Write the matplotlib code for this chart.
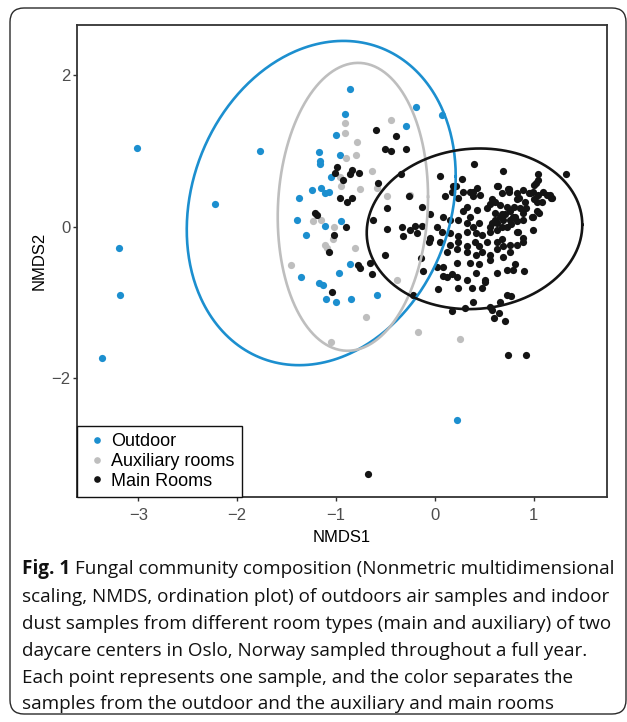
import numpy as np
import matplotlib
matplotlib.use("Agg")
import matplotlib.pyplot as plt
from matplotlib.patches import FancyBboxPatch
from matplotlib.lines import Line2D

# ---------------- data (NMDS scores) ----------------
outdoor_x = [-3.01, -1.77, -2.22, -3.20, -3.19, -3.37, 0.22, -0.86, -0.19, 0.07, -0.91, -0.29,
             -1.00, -1.17, -1.16, -1.16, -0.96, -1.05, -1.15, -1.24, -1.11, -1.07, -1.37, -1.40,
             -1.30, -1.11, -0.95, -0.86, -0.97, -1.35, -1.17, -1.13, -1.10, -1.00, -0.85, -0.59]
outdoor_y = [1.03, 1.00, 0.30, -0.29, -0.90, -1.74, -2.55, 1.81, 1.58, 1.47, 1.48, 1.33,
             1.21, 0.99, 0.86, 0.83, 0.94, 0.65, 0.51, 0.48, 0.44, 0.45, 0.37, 0.09,
             -0.11, 0.01, 0.07, -0.50, -0.61, -0.66, -0.75, -0.77, -0.96, -1.00, -0.95, -0.91]

aux_x = [-0.91, -0.91, -0.79, -0.44, -0.90, -0.80, -0.64, -0.96, -0.95, -0.76, -0.59, -0.48,
         -0.25, -1.23, -1.15, -1.02, -1.03, -1.11, -1.09, -0.81, -1.46, -0.38, -0.70, -0.17,
         0.25, -1.05]
aux_y = [1.36, 1.24, 1.12, 1.40, 0.90, 0.94, 0.73, 0.65, 0.53, 0.49, 0.51, 0.40,
         0.42, 0.07, 0.08, 0.00, -0.17, -0.25, -0.29, -0.28, -0.51, -0.70, -1.20, -1.39,
         -1.48, -1.53]

main_x = [-0.60, -0.39, -0.51, -0.44, -0.29, -0.99, -1.01, -0.84, -0.86, -0.77, -0.93, -0.58,
          -0.34, -0.96, -0.89, -0.84, -1.21, -1.19, -0.90, -1.02, -1.07, -0.78, -0.76, -0.66,
          -0.64, -1.04, -0.51, -0.63, -0.48, -0.48, -0.26, -0.13, -0.05, -0.33, -0.32, -0.20,
          -0.13, -0.18, -0.14, -0.12, -0.22, 0.03, 0.08, -0.05, -0.06, 0.05, 0.10, 0.18,
          0.27, 0.39, 0.69, 1.04, 1.04, 1.33, 1.02, 1.00, 0.89, 0.96, 1.09, 1.16,
          1.18, 0.74, 0.64, 0.43, 0.38, 0.46, 0.28, 0.23, 0.17, 0.56, 0.66, 0.73,
          0.83, 0.91, 1.03, 1.08, 0.32, 0.28, 0.35, 0.43, 0.53, 0.61, 0.68, 0.76,
          0.81, 0.89, 0.99, 1.03, 0.08, 0.15, 0.23, 0.32, 0.38, 0.45, 0.56, 0.63,
          0.69, 0.76, 0.02, 0.07, 0.15, 0.23, 0.32, 0.42, 0.48, 0.56, 0.63, 0.73,
          0.83, 0.99, 0.05, 0.15, 0.23, 0.32, 0.40, 0.45, 0.53, 0.63, 0.69, 0.76,
          0.83, 0.89, 0.12, 0.22, 0.32, 0.42, 0.48, 0.56, 0.63, 0.69, 0.76, 0.02,
          0.08, 0.22, 0.35, 0.45, 0.56, 0.12, 0.22, 0.32, 0.42, 0.51, 0.63, 0.73,
          0.79, 0.90, 0.81, 0.23, 0.37, 0.48, 0.51, 0.17, 0.30, 0.38, 0.56, 0.58,
          0.65, 0.60, 0.71, 0.66, 0.73, 0.77, 0.74, 0.92, -0.68, 0.63, 0.75, 0.75,
          0.68, 0.83, 0.85, 0.95, 0.99, 1.04, 1.13, 1.17, 1.00, 0.61, 0.58, 0.80,
          0.86, 0.92, 0.71, 0.66, 0.61, 0.58, 1.05, 0.98, 0.68, 0.77, 0.83, 0.79,
          0.89, 0.84, 0.89, 0.68, -0.25, -0.05, 0.17, 0.21, 0.35, 0.38]
main_y = [1.28, 1.20, 1.02, 1.00, 1.02, 0.79, 0.71, 0.75, 0.69, 0.70, 0.62, 0.57,
          0.69, 0.37, 0.33, 0.38, 0.18, 0.15, 0.00, -0.11, -0.34, -0.51, -0.55, -0.48,
          -0.62, -0.86, -0.38, 0.08, 0.24, -0.03, 0.40, 0.26, 0.17, -0.01, -0.13, 0.01,
          0.01, -0.08, -0.41, -0.59, -0.90, -0.82, -0.65, -0.16, -0.21, 0.67, 0.40, 0.53,
          0.63, 0.82, 0.73, 0.69, 0.62, 0.69, 0.57, 0.55, 0.48, 0.44, 0.46, 0.42,
          0.37, 0.49, 0.53, 0.51, 0.45, 0.41, 0.45, 0.38, 0.45, 0.30, 0.29, 0.26,
          0.36, 0.32, 0.32, 0.33, 0.26, 0.20, 0.13, 0.22, 0.25, 0.18, 0.16, 0.20,
          0.13, 0.18, 0.13, 0.20, 0.13, 0.09, 0.09, 0.05, 0.00, 0.05, 0.00, 0.05,
          0.09, 0.09, 0.00, -0.07, -0.08, -0.13, -0.07, -0.08, -0.11, -0.07, -0.04, -0.01,
          -0.07, -0.04, -0.21, -0.24, -0.21, -0.26, -0.21, -0.26, -0.21, -0.21, -0.26, -0.24,
          -0.24, -0.21, -0.34, -0.30, -0.34, -0.37, -0.34, -0.37, -0.30, -0.40, -0.34, -0.53,
          -0.54, -0.48, -0.48, -0.50, -0.44, -0.66, -0.66, -0.70, -0.61, -0.70, -0.61, -0.57,
          -0.57, -0.59, -0.50, -0.81, -0.81, -0.81, -0.73, -1.12, -1.07, -1.00, -1.06, -1.10,
          -1.14, -1.21, -1.25, -1.00, -0.91, -0.92, -1.70, -1.69, -3.26, 0.54, 0.50, 0.45,
          0.44, 0.44, 0.38, 0.44, 0.45, 0.42, 0.42, 0.38, 0.36, 0.33, 0.36, 0.26,
          0.25, 0.24, 0.16, 0.13, 0.09, 0.05, 0.18, 0.13, -0.01, 0.03, 0.07, 0.12,
          0.08, -0.07, -0.15, -0.16, -0.04, -0.15, -0.63, 0.53, 0.45, 0.40]

groups = ["Outdoor", "Auxiliary rooms", "Main Rooms"]
colors = ["#1C8FCF", "#BEBEBE", "#141414"]

# ellipse parameters: centre x, centre y, half ranges, correlation
ell_cx = [-1.15, -0.83, 0.40]
ell_cy = [0.31, 0.26, -0.03]
ell_sx = [1.36, 0.76, 1.09]
ell_sy = [2.14, 1.90, 1.06]
ell_rho = [0.165, 0.07, 0.05]

x_ticks = [-3, -2, -1, 0, 1]
y_ticks = [-2, 0, 2]

caption_lines = [
    "Fungal community composition (Nonmetric multidimensional",
    "scaling, NMDS, ordination plot) of outdoors air samples and indoor",
    "dust samples from different room types (main and auxiliary) of two",
    "daycare centers in Oslo, Norway sampled throughout a full year.",
    "Each point represents one sample, and the color separates the",
    "samples from the outdoor and the auxiliary and main rooms",
]

# ---------------- figure ----------------
W, H = 627, 722
fig = plt.figure(figsize=(W / 100, H / 100), dpi=100)

# outer rounded frame
frame = FancyBboxPatch((0.10, 0.08), 6.16, 7.06,
                       boxstyle="round,pad=0,rounding_size=0.14",
                       transform=fig.dpi_scale_trans, fill=False,
                       edgecolor="#2a2a2a", linewidth=1.0)
fig.patches.append(frame)

ax_l, ax_r, ax_t, ax_b = 77, 607, 25, 497
ax = fig.add_axes([ax_l / W, 1 - ax_b / H, (ax_r - ax_l) / W, (ax_b - ax_t) / H])

sans = ["Liberation Sans", "DejaVu Sans"]

ax.scatter(outdoor_x, outdoor_y, s=27, color=colors[0], linewidths=0, zorder=3)
ax.scatter(aux_x, aux_y, s=27, color=colors[1], linewidths=0, zorder=3)
ax.scatter(main_x, main_y, s=27, color=colors[2], linewidths=0, zorder=3)

t = np.linspace(0, 2 * np.pi, 400)
for cx, cy, sx, sy, r, c in zip(ell_cx, ell_cy, ell_sx, ell_sy, ell_rho, colors):
    ex = cx + sx * np.cos(t)
    ey = cy + sy * (r * np.cos(t) + np.sqrt(1 - r ** 2) * np.sin(t))
    ax.plot(ex, ey, color=c, linewidth=1.9, zorder=4)

ax.set_xlim(-3.62, 1.74)
ax.set_ylim(-3.57, 2.66)
ax.set_xticks(x_ticks)
ax.set_yticks(y_ticks)
ax.tick_params(direction="out", length=2.8, width=1.0, color="#333333",
               labelcolor="#4D4D4D", labelsize=12)
ax.tick_params(axis="x", pad=5)
ax.tick_params(axis="y", pad=2)
for lab in ax.get_xticklabels() + ax.get_yticklabels():
    lab.set_family(sans)
for sp in ax.spines.values():
    sp.set_color("#333333")
    sp.set_linewidth(1.3)

ax.set_xlabel("NMDS1", family=sans, fontsize=12, labelpad=5)
ax.set_ylabel("NMDS2", family=sans, fontsize=12, labelpad=3)

handles = [Line2D([], [], linestyle="none", marker="o", markersize=4.8,
                  markerfacecolor=c, markeredgewidth=0) for c in colors]
leg = ax.legend(handles, groups, loc="lower left", borderaxespad=0,
                frameon=True, fancybox=False, framealpha=1,
                prop={"family": sans, "size": 13}, handlelength=1.4,
                handletextpad=0.1, labelspacing=0.15, borderpad=0.4)
leg.get_frame().set_edgecolor("#111111")
leg.get_frame().set_linewidth(1.0)
leg.set_zorder(5)

# caption
cap_fam = ["Open Sans", "DejaVu Sans"]
cap_size = 13.6
cap_y = [569, 597, 624, 651, 678, 704]
renderer = fig.canvas.get_renderer()
x0 = 22 / W
bold = fig.text(x0, 1 - cap_y[0] / H, "Fig. 1", family=cap_fam, fontweight="bold",
                fontsize=cap_size, va="center", ha="left", color="#111111")
bb = bold.get_window_extent(renderer=renderer)
space = 4.5
fig.text((bb.x1 + space) / W, 1 - cap_y[0] / H, caption_lines[0], family=cap_fam,
         fontsize=cap_size, va="center", ha="left", color="#111111")
for line, yy in zip(caption_lines[1:], cap_y[1:]):
    fig.text(x0, 1 - yy / H, line, family=cap_fam, fontsize=cap_size,
             va="center", ha="left", color="#111111")

fig.savefig("out.png", dpi=100)
